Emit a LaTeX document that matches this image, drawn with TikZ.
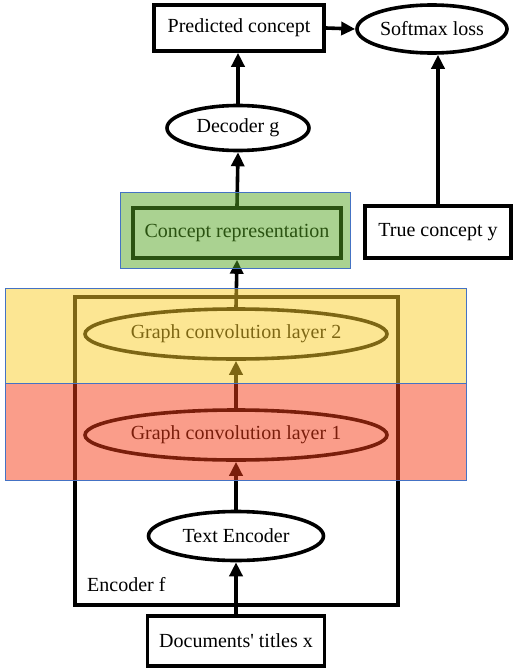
\documentclass[tikz,border=0pt]{standalone}
\usepackage{fontspec}
\setmainfont{Liberation Serif}
\usetikzlibrary{shapes.geometric,arrows.meta}
\definecolor{bandgreen}{RGB}{85,165,35}
\definecolor{bandgold}{RGB}{250,205,40}
\definecolor{bandred}{RGB}{245,60,22}
\definecolor{bandedge}{RGB}{68,114,196}
\tikzset{
  every node/.style={font=\fontsize{20}{24}\selectfont, inner sep=0pt},
  boxnode/.style={draw, rectangle, line width=3.6pt},
  ellnode/.style={draw, ellipse, line width=3.6pt},
  arr/.style={line width=3.6pt, -{Triangle[length=14pt,width=13pt]}},
  band/.style={fill opacity=0.5, draw=bandedge, line width=0.8pt},
}
\begin{document}
\begin{tikzpicture}[x=1pt,y=-1pt]
\useasboundingbox (0,0) rectangle (519,669);

% encoder cluster
\draw[line width=3.6pt] (75,297) rectangle (398,605);
\node[anchor=west] (encf) at (87,585) {Encoder f};

% nodes
\node[boxnode, minimum width=170, minimum height=46] (pred) at (239,28) {Predicted concept};
\node[ellnode, minimum width=150, minimum height=48] (soft) at (432,29) {Softmax loss};
\node[ellnode, minimum width=142, minimum height=45] (dec) at (238,128) {Decoder g};
\node[boxnode, minimum width=146, minimum height=52] (truec) at (438,232) {True concept y};
\node[boxnode, minimum width=208, minimum height=50] (crep) at (237,233) {Concept representation};
\node[ellnode, minimum width=302, minimum height=50] (gc2) at (236,334) {Graph convolution layer 2};
\node[ellnode, minimum width=302, minimum height=50] (gc1) at (236,435) {Graph convolution layer 1};
\node[ellnode, minimum width=175, minimum height=49] (tenc) at (236,536) {Text Encoder};
\node[boxnode, minimum width=177, minimum height=50] (docs) at (236,641) {Documents\textquotesingle{} titles x};

% connectors
\draw[arr] (docs.north) -- (tenc.south);
\draw[arr] (tenc.north) -- (gc1.south);
\draw[arr] (gc1.north) -- (gc2.south);
\draw[arr] (gc2.north) -- (crep.south);
\draw[arr] (crep.north) -- (dec.south);
\draw[arr] (dec.north) -- (dec.north |- pred.south);
\draw[arr] (pred.east) -- (soft.west);
\draw[arr] (truec.north) -- (truec.north |- soft.south);

% translucent bands on top
\draw[band, fill=bandgreen] (120,192) rectangle (350,268);
\draw[band, fill=bandgold] (5,288) rectangle (466,383);
\draw[band, fill=bandred] (5,383) rectangle (466,480);
\end{tikzpicture}
\end{document}
